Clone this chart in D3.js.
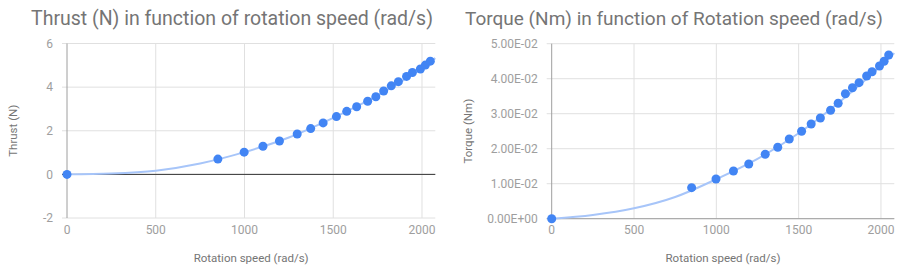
<!DOCTYPE html>
<html>
<head>
<meta charset="utf-8">
<script src="https://d3js.org/d3.v7.min.js"></script>
<style type="text/css">
  body { margin: 0; background: #fff; }
  svg { display: block; font-family: Roboto, sans-serif; }
</style>
</head>
<body>
<svg id="chart" width="910" height="278"></svg>
<script>

// rotation speed (rad/s) of each measurement, shared by both charts
const speed = [0, 850, 998, 1104, 1197, 1297, 1373, 1443, 1518, 1576, 1632, 1694, 1740, 1784, 1827, 1867, 1913, 1946, 1991, 2019, 2047];
const thrust = [0, 0.70, 1.02, 1.29, 1.53, 1.85, 2.10, 2.36, 2.65, 2.89, 3.10, 3.35, 3.56, 3.82, 4.06, 4.25, 4.49, 4.67, 4.83, 5.01, 5.19];
const torque = [0, 0.00886, 0.01134, 0.01363, 0.01563, 0.0184, 0.0204, 0.02277, 0.02497, 0.02706, 0.02877, 0.03097, 0.03297, 0.03571, 0.03743, 0.03886, 0.04077, 0.042, 0.04363, 0.04497, 0.04677];

// trendlines
const thrustTrendX = [0, 250, 500, 750, 1000, 1250, 1500, 1750, 2000, 2075];
const thrustTrend = [0, 0.04, 0.17, 0.50, 1.02, 1.69, 2.59, 3.62, 4.88, 5.33];
const torqueTrendX = [0, 250, 500, 750, 1000, 1250, 1500, 1750, 2000, 2081];
const torqueTrend = [0, 0.00106, 0.00297, 0.0062, 0.0113, 0.0171, 0.0244, 0.0334, 0.0437, 0.0473];

const xTicks = [0, 500, 1000, 1500, 2000];
const thrustTicks = [-2, 0, 2, 4, 6];
const torqueTicks = [0, 0.01, 0.02, 0.03, 0.04, 0.05];
const torqueTickLabels = ['0.00E+00', '1.00E-02', '2.00E-02', '3.00E-02', '4.00E-02', '5.00E-02'];

const svg = d3.select('#chart');

function drawChart(c) {
  const g = svg.append('g');
  const x = d3.scaleLinear().domain(c.xDomain).range(c.xRange);
  const y = d3.scaleLinear().domain(c.yDomain).range(c.yRange);

  g.append('text')
    .attr('x', c.titleX).attr('y', 25)
    .attr('fill', '#757575')
    .attr('font-size', c.titleSize)
    .text(c.title);

  // horizontal grid
  g.selectAll('.hgrid').data(c.yTicks).join('line')
    .attr('x1', c.xRange[0] - 5).attr('x2', c.xRange[1])
    .attr('y1', d => y(d)).attr('y2', d => y(d))
    .attr('stroke', '#e0e0e0').attr('stroke-width', 1);

  // vertical grid
  g.selectAll('.vgrid').data(xTicks.slice(1)).join('line')
    .attr('x1', d => x(d)).attr('x2', d => x(d))
    .attr('y1', c.yRange[1]).attr('y2', c.yRange[0])
    .attr('stroke', '#e0e0e0').attr('stroke-width', 1);

  // axis lines
  g.append('line')
    .attr('x1', x(0)).attr('x2', x(0))
    .attr('y1', c.yRange[1]).attr('y2', c.yRange[0])
    .attr('stroke', '#9e9e9e').attr('stroke-width', 1);
  g.append('line')
    .attr('x1', c.xRange[0] - 5).attr('x2', c.xRange[1])
    .attr('y1', y(0)).attr('y2', y(0))
    .attr('stroke', c.zeroColor).attr('stroke-width', 1);

  // tick labels
  g.selectAll('.ylab').data(c.yTicks).join('text')
    .attr('x', c.xRange[0] - 14).attr('y', d => y(d))
    .attr('dy', '0.35em')
    .attr('text-anchor', 'end')
    .attr('fill', '#9e9e9e').attr('font-size', 12)
    .text((d, i) => c.yTickLabels[i]);
  g.selectAll('.xlab').data(xTicks).join('text')
    .attr('x', d => x(d)).attr('y', 234)
    .attr('text-anchor', 'middle')
    .attr('fill', '#9e9e9e').attr('font-size', 12)
    .text(d => d);

  // axis titles
  g.append('text')
    .attr('x', d3.mean(c.xRange)).attr('y', 262)
    .attr('text-anchor', 'middle')
    .attr('fill', '#757575').attr('font-size', 11.5)
    .text('Rotation speed (rad/s)');
  g.append('text')
    .attr('transform', `translate(${c.yTitleX} ${d3.mean(c.yRange)}) rotate(-90)`)
    .attr('text-anchor', 'middle')
    .attr('fill', '#757575').attr('font-size', 11.5)
    .text(c.yTitle);

  // trendline
  const line = d3.line()
    .x(d => x(d[0]))
    .y(d => y(d[1]))
    .curve(d3.curveMonotoneX);
  g.append('path')
    .datum(c.trendX.map((v, i) => [v, c.trend[i]]))
    .attr('fill', 'none')
    .attr('stroke', '#a7c5f9')
    .attr('stroke-width', 2)
    .attr('d', line);

  // points
  g.selectAll('circle').data(speed.map((v, i) => [v, c.values[i]])).join('circle')
    .attr('cx', d => x(d[0])).attr('cy', d => y(d[1]))
    .attr('r', 4.5)
    .attr('fill', '#4285f4');
}

drawChart({
  title: 'Thrust (N) in function of rotation speed (rad/s)',
  titleX: 31, titleSize: 19.5,
  yTitle: 'Thrust (N)',
  yTitleX: 17,
  xDomain: [0, 2075], xRange: [67, 435.3],
  yDomain: [-2, 6], yRange: [218, 43.5],
  yTicks: thrustTicks, yTickLabels: thrustTicks.map(String),
  zeroColor: '#333333',
  values: thrust, trendX: thrustTrendX, trend: thrustTrend
});

drawChart({
  title: 'Torque (Nm) in function of Rotation speed (rad/s)',
  titleX: 465, titleSize: 19,
  yTitle: 'Torque (Nm)',
  yTitleX: 472,
  xDomain: [0, 2081], xRange: [551.7, 894.3],
  yDomain: [0, 0.05], yRange: [218.7, 43.7],
  yTicks: torqueTicks, yTickLabels: torqueTickLabels,
  zeroColor: '#9e9e9e',
  values: torque, trendX: torqueTrendX, trend: torqueTrend
});

</script>
</body>
</html>
